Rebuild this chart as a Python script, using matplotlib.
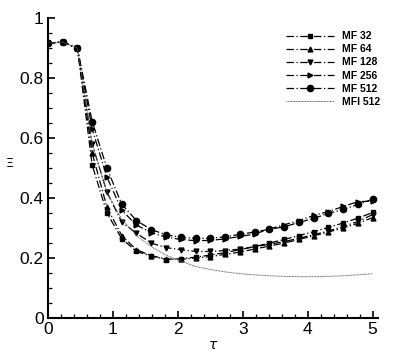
import numpy as np
import matplotlib
matplotlib.use("Agg")
import matplotlib.pyplot as plt

plt.rcParams['font.family'] = ['Liberation Sans', 'DejaVu Sans']

# tau grid (marker positions)
tau = np.linspace(0, 5, 23)

mf32 = [0.917, 0.92, 0.90, 0.51, 0.35, 0.265, 0.222, 0.207, 0.195, 0.198, 0.203, 0.21,
        0.218, 0.228, 0.238, 0.25, 0.262, 0.275, 0.288, 0.302, 0.317, 0.333, 0.352]
mf64 = [0.917, 0.92, 0.90, 0.55, 0.37, 0.275, 0.228, 0.208, 0.197, 0.196, 0.20, 0.205,
        0.212, 0.22, 0.23, 0.24, 0.25, 0.262, 0.274, 0.287, 0.30, 0.316, 0.335]
mf128 = [0.917, 0.92, 0.90, 0.58, 0.42, 0.32, 0.283, 0.25, 0.235, 0.228, 0.222, 0.222,
         0.225, 0.23, 0.238, 0.246, 0.255, 0.266, 0.278, 0.29, 0.305, 0.322, 0.345]
mf256 = [0.917, 0.92, 0.90, 0.63, 0.47, 0.36, 0.31, 0.285, 0.27, 0.262, 0.258, 0.259,
         0.264, 0.272, 0.28, 0.297, 0.311, 0.325, 0.342, 0.355, 0.372, 0.388, 0.39]
mf512 = [0.917, 0.92, 0.90, 0.655, 0.50, 0.38, 0.325, 0.295, 0.278, 0.269, 0.266, 0.266,
         0.271, 0.279, 0.287, 0.296, 0.304, 0.319, 0.332, 0.349, 0.362, 0.379, 0.396]
mfi512 = [0.917, 0.92, 0.90, 0.58, 0.42, 0.33, 0.275, 0.238, 0.21, 0.19, 0.172, 0.162,
          0.154, 0.148, 0.144, 0.141, 0.139, 0.138, 0.138, 0.139, 0.141, 0.144, 0.148]

labels = ["MF 32", "MF 64", "MF 128", "MF 256", "MF 512", "MFI 512"]

fig = plt.figure(figsize=(3.99, 3.55), dpi=100)
ax = fig.add_axes([0.12, 0.104, 0.827, 0.845])

dash = (0, (6, 2, 1, 2))
ax.plot(tau, mf32, color='black', ls=dash, lw=0.9, marker='s', ms=3, label=labels[0])
ax.plot(tau, mf64, color='black', ls=dash, lw=0.9, marker='^', ms=3.5, label=labels[1])
ax.plot(tau, mf128, color='black', ls=dash, lw=0.9, marker='v', ms=3.5, label=labels[2])
ax.plot(tau, mf256, color='black', ls=dash, lw=0.9, marker='>', ms=3.5, label=labels[3])
ax.plot(tau, mf512, color='black', ls=dash, lw=0.9, marker='o', ms=4.5, label=labels[4])
ax.plot(tau, mfi512, color='#666666', ls=(0, (1, 0.6)), lw=0.7, label=labels[5])

ax.set_xlim(0, 5.08)
ax.set_ylim(0, 1)
ax.set_xticks(np.arange(0, 6, 1))
ax.set_yticks([0, 0.2, 0.4, 0.6, 0.8, 1])
ax.set_yticklabels(['0', '0.2', '0.4', '0.6', '0.8', '1'])
ax.set_xticks(np.arange(0, 5.01, 0.2), minor=True)
ax.set_yticks(np.arange(0, 1.001, 0.05), minor=True)
ax.tick_params(which='major', direction='in', length=5, width=1.2, labelsize=12.5, pad=3)
ax.tick_params(which='minor', direction='in', length=3, width=0.9)

for s in ['top', 'right']:
    ax.spines[s].set_visible(False)
for s in ['left', 'bottom']:
    ax.spines[s].set_linewidth(1.5)

ax.set_xlabel(r"$\tau$", fontsize=10)
ax.set_ylabel(r"$\Xi$", fontsize=9, rotation=0)
ax.xaxis.set_label_coords(0.5, -0.068)
ax.yaxis.set_label_coords(-0.118, 0.493)

leg = fig.legend(loc='upper left', bbox_to_anchor=(0.717, 0.912), frameon=False,
                 prop={'weight': 'bold', 'size': 7.5}, handlelength=4.6,
                 labelspacing=0.3, handletextpad=0.8, borderpad=0, borderaxespad=0)

fig.savefig("out.png", dpi=100)
